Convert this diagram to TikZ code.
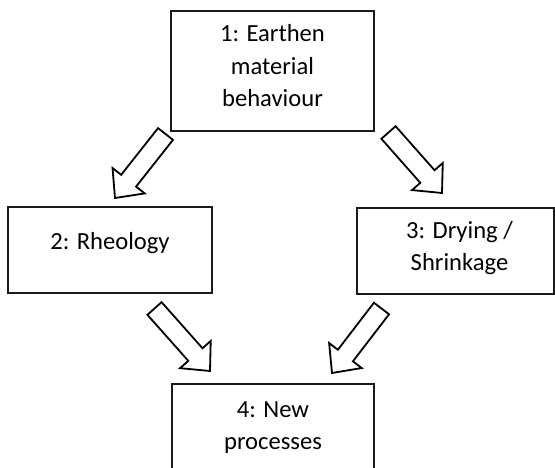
\documentclass[tikz,border=0pt]{standalone}
\usepackage{fontspec}
\setmainfont{Carlito}
\usetikzlibrary{calc}
\definecolor{ink}{HTML}{1A1A1A}
\tikzset{
  box/.style={draw=ink, line width=1.8pt, inner sep=0pt, outer sep=0pt, fill=white},
  lbl/.style={text=black, align=center, inner sep=0pt, font=\fontsize{24.6}{32.5}\selectfont},
  blockarrow/.style={draw=black, line width=1.8pt, fill=white, line join=miter}
}
\newcommand\blockarr[2]{%
  \coordinate (#1m) at ($(#2)!22pt!(#1)$);
  \draw[blockarrow] ($(#1)!9.5pt!90:(#2)$) -- ($(#1m)!9.5pt!-90:(#1)$) -- ($(#1m)!20.5pt!-90:(#1)$) -- (#2) -- ($(#1m)!20.5pt!90:(#1)$) -- ($(#1m)!9.5pt!90:(#1)$) -- ($(#1)!9.5pt!-90:(#2)$) -- cycle;
}
\begin{document}
\begin{tikzpicture}[x=1pt,y=-1pt]
\clip (0,0) rectangle (555,468);
\fill[white] (0,0) rectangle (555,468);
% boxes
\node[box, minimum width=203pt, minimum height=120pt] (b1) at (272.5,71) {};
\node[box, minimum width=204pt, minimum height=86pt] (b2) at (110,250) {};
\node[box, minimum width=197pt, minimum height=86pt] (b3) at (455.5,251) {};
\node[box, minimum width=202pt, minimum height=140pt] (b4) at (273,454) {};
% texts
\node[lbl] (t1) at (272.5,66) {1: Earthen\\material\\behaviour};
\node[lbl, anchor=base] (t2) at (110,250) {2: Rheology};
\node[lbl] (t3) at (459.5,248) {3: Drying /\\Shrinkage};
\node[lbl] (t4) at (273,427.5) {4: New\\processes};
% arrows
\coordinate (a1) at (165.5,134); \coordinate (p1) at (115,198);
\coordinate (a2) at (388.5,132.5); \coordinate (p2) at (442,193);
\coordinate (a3) at (154.5,308.5); \coordinate (p3) at (210,371);
\coordinate (a4) at (381.5,308.5); \coordinate (p4) at (332,373);
\blockarr{a1}{p1}
\blockarr{a2}{p2}
\blockarr{a3}{p3}
\blockarr{a4}{p4}
\end{tikzpicture}
\end{document}
